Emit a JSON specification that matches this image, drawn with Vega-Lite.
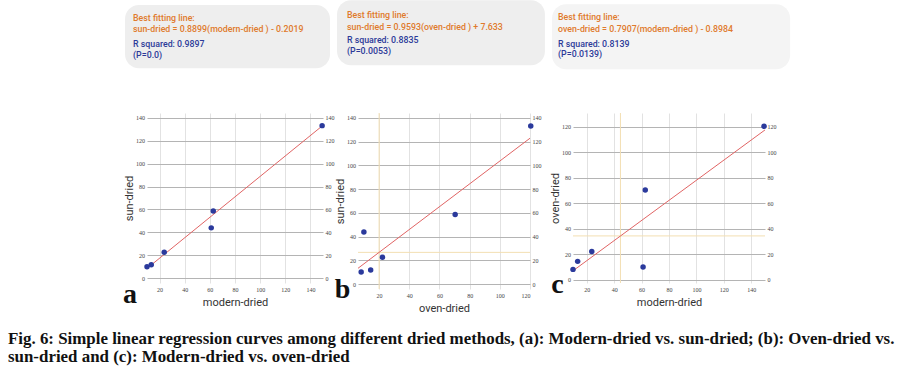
{
  "$schema": "https://vega.github.io/schema/vega-lite/v6.json",
  "padding": {"left": 8, "top": 0, "right": 2, "bottom": 4},
  "background": "white",
  "datasets": {
    "samples": [
      {"modern": 10, "sun": 10.2, "oven": 8.1},
      {"modern": 13.4, "sun": 11.9, "oven": 14.4},
      {"modern": 23.7, "sun": 22.7, "oven": 22.2},
      {"modern": 61.1, "sun": 44, "oven": 9.9},
      {"modern": 62.7, "sun": 58.6, "oven": 70.4},
      {"modern": 149.3, "sun": 133, "oven": 120.5}
    ],
    "fitA": [{"x": 10, "y": 8.7}, {"x": 150, "y": 133.3}],
    "fitB": [{"x": 6, "y": 13.4}, {"x": 120, "y": 122.8}],
    "fitC": [{"x": 10, "y": 7.0}, {"x": 150, "y": 117.7}],
    "one": [{}]
  },
  "config": {
    "view": {"stroke": null},
    "axis": {
      "labelFont": "Liberation Serif",
      "labelFontSize": 6,
      "labelColor": "#444",
      "ticks": false,
      "domain": false,
      "titleFont": "Roboto",
      "titleFontSize": 11,
      "titleFontWeight": "normal",
      "titleColor": "#333"
    },
    "axisX": {"gridColor": "#e2e2e2", "labelPadding": 3, "titlePadding": 4},
    "axisY": {"gridColor": "#b4b4b4", "labelPadding": 2.5, "titlePadding": 1.5}
  },
  "title": {
    "text": [
      "Fig. 6: Simple linear regression curves among different dried methods, (a):  Modern-dried vs. sun-dried; (b): Oven-dried vs.",
      "sun-dried and (c): Modern-dried vs. oven-dried"
    ],
    "orient": "bottom",
    "anchor": "start",
    "frame": "group",
    "dx": -139,
    "offset": 18,
    "font": "Liberation Serif",
    "fontSize": 16.9,
    "fontWeight": "bold",
    "lineHeight": 18,
    "color": "#111"
  },
  "bounds": "flush",
  "spacing": 35,
  "hconcat": [
    {
      "width": 176,
      "height": 170,
      "layer": [
        {
          "data": {"name": "one"},
          "mark": {"type": "rect", "color": "#eeeeee", "cornerRadius": 14},
          "encoding": {
            "x": {"datum": -7.5, "type": "quantitative", "axis": {"values": [20, 40, 60, 80, 100, 120, 140], "title": "modern-dried", "grid": true}},
            "x2": {"datum": 155.6},
            "y": {"datum": 238, "type": "quantitative", "axis": null},
            "y2": {"datum": 183}
          }
        },
        {
          "data": {"name": "one"},
          "mark": {"type": "text", "text": ["Best fitting line:", "sun-dried  = 0.8899(modern-dried ) - 0.2019"], "font": "Roboto", "fontSize": 8.8, "fontWeight": 500, "lineHeight": 11.5, "align": "left", "baseline": "alphabetic", "color": "#e07a2c"},
          "encoding": {
            "x": {"datum": -1.1, "type": "quantitative", "axis": {"values": [20, 40, 60, 80, 100, 120, 140], "title": "modern-dried", "grid": true}},
            "y": {"datum": 224.1, "type": "quantitative", "axis": null}
          }
        },
        {
          "data": {"name": "one"},
          "mark": {"type": "text", "text": ["R squared: 0.9897", "(P=0.0)"], "font": "Roboto", "fontSize": 8.8, "fontWeight": 500, "lineHeight": 10.5, "align": "left", "baseline": "alphabetic", "color": "#2c3a99"},
          "encoding": {
            "x": {"datum": -1.1, "type": "quantitative", "axis": {"values": [20, 40, 60, 80, 100, 120, 140], "title": "modern-dried", "grid": true}},
            "y": {"datum": 201.4, "type": "quantitative", "axis": null}
          }
        },
        {
          "data": {"name": "fitA"},
          "mark": {"type": "line", "color": "#e06464", "strokeWidth": 1},
          "encoding": {
            "x": {"field": "x", "type": "quantitative", "scale": {"domain": [10, 150], "nice": false, "zero": false},
                  "axis": {"values": [20, 40, 60, 80, 100, 120, 140], "title": "modern-dried", "grid": true}},
            "y": {"field": "y", "type": "quantitative", "scale": {"domain": [-4, 144], "nice": false, "zero": false},
                  "axis": {"values": [0, 20, 40, 60, 80, 100, 120, 140], "title": "sun-dried", "grid": true, "orient": "left"}}
          }
        },
        {
          "data": {"name": "samples"},
          "mark": {"type": "point", "filled": true, "color": "#2b3a9c", "size": 30, "opacity": 1},
          "encoding": {
            "x": {"field": "modern", "type": "quantitative", "axis": {"values": [20, 40, 60, 80, 100, 120, 140], "title": "modern-dried", "grid": true}},
            "y": {"field": "sun", "type": "quantitative",
                  "axis": {"values": [0, 20, 40, 60, 80, 100, 120, 140], "title": null, "grid": false, "orient": "right", "labelPadding": 2}}
          }
        },
        {
          "data": {"name": "one"},
          "mark": {"type": "text", "text": "a", "font": "Liberation Serif", "fontSize": 28, "fontWeight": "bold", "align": "center", "baseline": "alphabetic", "color": "#111"},
          "encoding": {
            "x": {"datum": -3.5, "type": "quantitative", "axis": {"values": [20, 40, 60, 80, 100, 120, 140], "title": "modern-dried", "grid": true}},
            "y": {"datum": -21, "type": "quantitative", "axis": null}
          }
        }
      ],
      "resolve": {"axis": {"y": "independent"}}
    },
    {
      "bounds": "flush",
      "spacing": 43,
      "hconcat": [
        {
          "width": 172,
          "height": 176,
          "layer": [
            {
              "data": {"name": "one"},
              "mark": {"type": "rect", "color": "#eeeeee", "cornerRadius": 14},
              "encoding": {
                "x": {"datum": -7.9, "type": "quantitative", "axis": {"values": [20, 40, 60, 80, 100, 120], "title": "oven-dried", "grid": true}},
                "x2": {"datum": 129.9},
                "y": {"datum": 238.8, "type": "quantitative", "axis": null},
                "y2": {"datum": 184.1}
              }
            },
            {
              "data": {"name": "one"},
              "mark": {"type": "text", "text": ["Best fitting line:", "sun-dried  = 0.9593(oven-dried ) + 7.633"], "font": "Roboto", "fontSize": 8.8, "fontWeight": 500, "lineHeight": 11.5, "align": "left", "baseline": "alphabetic", "color": "#e07a2c"},
              "encoding": {
                "x": {"datum": -1.3, "type": "quantitative", "axis": {"values": [20, 40, 60, 80, 100, 120], "title": "oven-dried", "grid": true}},
                "y": {"datum": 223.6, "type": "quantitative", "axis": null}
              }
            },
            {
              "data": {"name": "one"},
              "mark": {"type": "text", "text": ["R squared: 0.8835", "(P=0.0053)"], "font": "Roboto", "fontSize": 8.8, "fontWeight": 500, "lineHeight": 10.5, "align": "left", "baseline": "alphabetic", "color": "#2c3a99"},
              "encoding": {
                "x": {"datum": -1.3, "type": "quantitative", "axis": {"values": [20, 40, 60, 80, 100, 120], "title": "oven-dried", "grid": true}},
                "y": {"datum": 202.6, "type": "quantitative", "axis": null}
              }
            },
            {
              "data": {"name": "one"},
              "mark": {"type": "rule", "color": "#f3dfb2", "strokeWidth": 1},
              "encoding": {
                "x": {"datum": 20, "type": "quantitative", "axis": {"values": [20, 40, 60, 80, 100, 120], "title": "oven-dried", "grid": true}}
              }
            },
            {
              "data": {"name": "one"},
              "mark": {"type": "rule", "color": "#f3dfb2", "strokeWidth": 1},
              "encoding": {
                "y": {"datum": 26.8, "type": "quantitative", "axis": null}
              }
            },
            {
              "data": {"name": "fitB"},
              "mark": {"type": "line", "color": "#e06464", "strokeWidth": 1},
              "encoding": {
                "x": {"field": "x", "type": "quantitative", "scale": {"domain": [6, 120], "nice": false, "zero": false},
                      "axis": {"values": [20, 40, 60, 80, 100, 120], "title": "oven-dried", "grid": true}},
                "y": {"field": "y", "type": "quantitative", "scale": {"domain": [-4, 144], "nice": false, "zero": false},
                      "axis": {"values": [0, 20, 40, 60, 80, 100, 120, 140], "title": "sun-dried", "grid": true, "orient": "left"}}
              }
            },
            {
              "data": {"name": "samples"},
              "mark": {"type": "point", "filled": true, "color": "#2b3a9c", "size": 30, "opacity": 1},
              "encoding": {
                "x": {"field": "oven", "type": "quantitative", "axis": {"values": [20, 40, 60, 80, 100, 120], "title": "oven-dried", "grid": true}},
                "y": {"field": "sun", "type": "quantitative",
                      "axis": {"values": [0, 20, 40, 60, 80, 100, 120, 140], "title": null, "grid": false, "orient": "right", "labelPadding": 2}}
              }
            },
            {
              "data": {"name": "one"},
              "mark": {"type": "text", "text": "b", "font": "Liberation Serif", "fontSize": 28, "fontWeight": "bold", "align": "center", "baseline": "alphabetic", "color": "#111"},
              "encoding": {
                "x": {"datum": -4.3, "type": "quantitative", "axis": {"values": [20, 40, 60, 80, 100, 120], "title": "oven-dried", "grid": true}},
                "y": {"datum": -11.3, "type": "quantitative", "axis": null}
              }
            }
          ],
          "resolve": {"axis": {"y": "independent"}}
        },
        {
          "width": 192,
          "height": 170,
          "layer": [
            {
              "data": {"name": "one"},
              "mark": {"type": "rect", "color": "#f4f4f4", "cornerRadius": 14},
              "encoding": {
                "x": {"datum": -5.3, "type": "quantitative", "axis": {"values": [20, 40, 60, 80, 100, 120, 140], "title": "modern-dried", "grid": true}},
                "x2": {"datum": 168.3},
                "y": {"datum": 216.5, "type": "quantitative", "axis": null},
                "y2": {"datum": 165.4}
              }
            },
            {
              "data": {"name": "one"},
              "mark": {"type": "text", "text": ["Best fitting line:", "oven-dried  = 0.7907(modern-dried ) - 0.8984"], "font": "Roboto", "fontSize": 8.8, "fontWeight": 500, "lineHeight": 12, "align": "left", "baseline": "alphabetic", "color": "#e07a2c"},
              "encoding": {
                "x": {"datum": -0.9, "type": "quantitative", "axis": {"values": [20, 40, 60, 80, 100, 120, 140], "title": "modern-dried", "grid": true}},
                "y": {"datum": 204.3, "type": "quantitative", "axis": null}
              }
            },
            {
              "data": {"name": "one"},
              "mark": {"type": "text", "text": ["R squared: 0.8139", "(P=0.0139)"], "font": "Roboto", "fontSize": 8.8, "fontWeight": 500, "lineHeight": 10.5, "align": "left", "baseline": "alphabetic", "color": "#2c3a99"},
              "encoding": {
                "x": {"datum": -0.9, "type": "quantitative", "axis": {"values": [20, 40, 60, 80, 100, 120, 140], "title": "modern-dried", "grid": true}},
                "y": {"datum": 183.0, "type": "quantitative", "axis": null}
              }
            },
            {
              "data": {"name": "one"},
              "mark": {"type": "rule", "color": "#f3dfb2", "strokeWidth": 1},
              "encoding": {
                "x": {"datum": 44.6, "type": "quantitative", "axis": {"values": [20, 40, 60, 80, 100, 120, 140], "title": "modern-dried", "grid": true}}
              }
            },
            {
              "data": {"name": "one"},
              "mark": {"type": "rule", "color": "#f3dfb2", "strokeWidth": 1},
              "encoding": {
                "y": {"datum": 34.4, "type": "quantitative", "axis": null}
              }
            },
            {
              "data": {"name": "fitC"},
              "mark": {"type": "line", "color": "#e06464", "strokeWidth": 1},
              "encoding": {
                "x": {"field": "x", "type": "quantitative", "scale": {"domain": [10, 150], "nice": false, "zero": false},
                      "axis": {"values": [20, 40, 60, 80, 100, 120, 140], "title": "modern-dried", "grid": true}},
                "y": {"field": "y", "type": "quantitative", "scale": {"domain": [-2.6, 131], "nice": false, "zero": false},
                      "axis": {"values": [0, 20, 40, 60, 80, 100, 120], "title": "oven-dried", "grid": true, "orient": "left"}}
              }
            },
            {
              "data": {"name": "samples"},
              "mark": {"type": "point", "filled": true, "color": "#2b3a9c", "size": 30, "opacity": 1},
              "encoding": {
                "x": {"field": "modern", "type": "quantitative", "axis": {"values": [20, 40, 60, 80, 100, 120, 140], "title": "modern-dried", "grid": true}},
                "y": {"field": "oven", "type": "quantitative",
                      "axis": {"values": [0, 20, 40, 60, 80, 100, 120], "title": null, "grid": false, "orient": "right", "labelPadding": 2}}
              }
            },
            {
              "data": {"name": "one"},
              "mark": {"type": "text", "text": "c", "font": "Liberation Serif", "fontSize": 28, "fontWeight": "bold", "align": "center", "baseline": "alphabetic", "color": "#111"},
              "encoding": {
                "x": {"datum": -1.3, "type": "quantitative", "axis": {"values": [20, 40, 60, 80, 100, 120, 140], "title": "modern-dried", "grid": true}},
                "y": {"datum": -10.7, "type": "quantitative", "axis": null}
              }
            }
          ],
          "resolve": {"axis": {"y": "independent"}}
        }
      ]
    }
  ]
}
